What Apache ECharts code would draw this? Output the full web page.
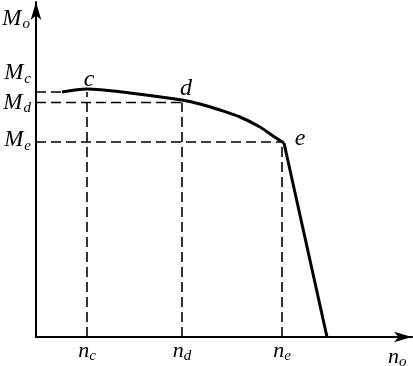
<!DOCTYPE html>
<html><head><meta charset="utf-8">
<script src="https://cdn.jsdelivr.net/npm/echarts@6/dist/echarts.min.js"></script>
<style>html,body{margin:0;padding:0;background:#fff}#c{width:413px;height:366px}</style>
</head><body><div id="c"></div>
<script>
// curve (moment vs speed), arbitrary units
const curveX = [26, 51, 94, 146, 164, 184, 204, 224, 237, 248];
const curveY = [245, 248, 244, 237, 233, 227, 220, 210, 201, 194];
const dropX = [248, 291];
const dropY = [194, 0];
// characteristic points
const pointNames = ['c', 'd', 'e'];
const pointX = [51, 146, 246];
const pointY = [245, 234.5, 195];
const curveStartX = 26;
// axis labels
const yLabelVals = [264, 234.5, 197];
const yLabelSubs = ['c', 'd', 'e'];
const xLabelSubs = ['c', 'd', 'e'];

const chart = echarts.init(document.getElementById('c'));
const serif = 'Liberation Serif';
const richM = {
  M: {fontFamily: serif, fontStyle: 'italic', fontSize: 23, color: '#000'},
  s: {fontFamily: serif, fontStyle: 'italic', fontSize: 15, color: '#000', padding: [12, 0, 0, 1]}
};
const richN = {
  n: {fontFamily: serif, fontStyle: 'italic', fontSize: 22, color: '#000'},
  s: {fontFamily: serif, fontStyle: 'italic', fontSize: 15, color: '#000', padding: [10, 0, 0, 0]}
};
const dash = {color: '#000', width: 1.6, type: [10, 5]};
const dashed = [];
dashed.push([[0, pointY[0]], [curveStartX, pointY[0]]]);
dashed.push([[0, pointY[1]], [pointX[1], pointY[1]]]);
dashed.push([[0, pointY[2]], [pointX[2], pointY[2]]]);
for (let i = 0; i < 3; i++) dashed.push([[pointX[i], 0], [pointX[i], pointY[i]]]);

const series = dashed.map(d => ({type: 'line', data: d, symbol: 'none', lineStyle: dash, silent: true, z: 1}));
series.push({
  type: 'line', data: curveX.map((x, i) => [x, curveY[i]]), smooth: 0.3, symbol: 'none',
  lineStyle: {color: '#000', width: 3}, z: 3
});
series.push({
  type: 'line', data: dropX.map((x, i) => [x, dropY[i]]), symbol: 'none',
  lineStyle: {color: '#000', width: 3}, z: 3
});
const letterPos = [[53, 257], [150, 248], [264, 198]];
series.push({
  type: 'scatter', symbolSize: 0, silent: true,
  data: pointNames.map((n, i) => ({value: letterPos[i], name: n})),
  label: {show: true, position: 'inside', formatter: p => p.name,
    fontFamily: serif, fontStyle: 'italic', fontSize: 24, color: '#000', opacity: 1}
});

chart.setOption({
  animation: false,
  grid: {left: 36, right: 1, top: 2, bottom: 29, outerBoundsMode: 'none', containLabel: false},
  xAxis: {
    type: 'value', min: 0, max: 376,
    splitLine: {show: false}, axisTick: {show: false},
    axisLine: {lineStyle: {color: '#000', width: 2}, symbol: ['none', 'arrow'], symbolSize: [8, 18]},
    axisLabel: {customValues: pointX, margin: 2,
      formatter: v => '{n|n}{s|' + xLabelSubs[pointX.indexOf(v)] + '}', rich: richN},
    name: '{n|n}{s|o}', nameLocation: 'end', nameGap: -24,
    nameTextStyle: {rich: richN, padding: [40, 0, 0, 0]}
  },
  yAxis: {
    type: 'value', min: 0, max: 335,
    splitLine: {show: false}, axisTick: {show: false},
    axisLine: {lineStyle: {color: '#000', width: 2}, symbol: ['none', 'arrow'], symbolSize: [8, 18]},
    axisLabel: {customValues: yLabelVals, margin: 5,
      formatter: v => '{M|M}{s|' + yLabelSubs[yLabelVals.indexOf(v)] + '}', rich: richM},
    name: '{M|M}{s|o}', nameLocation: 'end', nameGap: -30,
    nameTextStyle: {rich: richM, align: 'right', padding: [0, 6, 0, 0]}
  },
  series: series
});
</script></body></html>
